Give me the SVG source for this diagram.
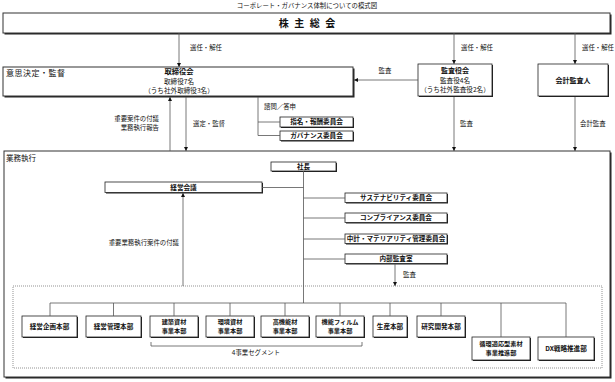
<svg xmlns="http://www.w3.org/2000/svg" width="615" height="382" viewBox="0 0 615 382">
<style>
.s{fill:#222}
.b{fill:#fff;stroke:#222;stroke-width:.8}
.o{fill:#fff;stroke:#333;stroke-width:1}
.l{fill:none;stroke:#555;stroke-width:.8}
.d{fill:none;stroke:#666;stroke-width:.7;stroke-dasharray:1 1}
.a{fill:none;stroke:#555;stroke-width:.8;marker-end:url(#ar)}
text{font-family:"Noto Sans CJK JP","Noto Sans",sans-serif;font-size:6.4px;fill:#111}
.bt{font-weight:bold;font-size:6.6px}
.t2{font-weight:bold;font-size:6.2px}
.m{text-anchor:middle}
.e{text-anchor:end}
</style>
<defs>
<marker id="ar" markerUnits="userSpaceOnUse" markerWidth="4" markerHeight="4" refX="4" refY="2" orient="auto">
<path d="M0,0L4,2L0,4z" fill="#111"/>
</marker>
</defs>
<text x="307" y="8" class="m" style="font-size:6.4px">コーポレート・ガバナンス体制についての模式図</text>

<g id="kabunushi">
<rect x="4.5" y="14.5" width="607" height="20" class="s"/>
<rect x="3" y="13" width="607" height="20" class="o"/>
<text x="307.8" y="27" class="m bt" style="font-size:10px;letter-spacing:1.6px">株 主 総 会</text>
</g>

<g id="torishimariyakukai">
<rect x="4.5" y="68.5" width="350" height="29" class="s"/>
<rect x="3" y="67" width="350" height="29" class="o"/>
<text x="6" y="76" style="font-size:8px;letter-spacing:.5px">意思決定・監督</text>
<text x="179" y="74" class="m bt" style="font-size:7.3px">取締役会</text>
<text x="179" y="84" class="m" style="font-size:6.6px">取締役7名</text>
<text x="179" y="92.5" class="m" style="font-size:6.6px">（うち社外取締役3名）</text>
</g>

<g id="kansayakukai">
<rect x="419" y="65" width="74" height="32" class="s"/>
<rect x="418" y="64" width="74" height="32" class="b"/>
<text x="455" y="72.5" class="m bt" style="font-size:7px">監査役会</text>
<text x="455" y="82.5" class="m" style="font-size:6.6px">監査役4名</text>
<text x="455" y="91.8" class="m" style="font-size:6.6px">（うち社外監査役2名）</text>
</g>

<g id="kaikeikansanin">
<rect x="539" y="65" width="70" height="32" class="s"/>
<rect x="538" y="64" width="70" height="32" class="b"/>
<text x="573" y="82.5" class="m bt" style="font-size:7px">会計監査人</text>
</g>

<g id="shimei">
<rect x="281" y="118" width="73" height="10" class="s"/>
<rect x="280" y="117" width="73" height="10" class="b"/>
<text x="316.5" y="124.4" class="m bt">指名・報酬委員会</text>
</g>

<g id="governance">
<rect x="281" y="132" width="73" height="9.5" class="s"/>
<rect x="280" y="131" width="73" height="9.5" class="b"/>
<text x="316.5" y="138.1" class="m bt">ガバナンス委員会</text>
</g>

<g id="gyomushikko">
<rect x="5.5" y="152.5" width="606" height="226" class="s"/>
<rect x="4" y="151" width="606" height="226" class="o"/>
<text x="6" y="161" style="font-size:7.5px">業務執行</text>
<rect x="13" y="286" width="589" height="82" class="d"/>
</g>

<g id="shacho">
<rect x="272" y="163" width="65" height="9" class="s"/>
<rect x="271" y="162" width="65" height="9" class="b"/>
<text x="303.5" y="168.9" class="m bt">社長</text>
</g>

<g id="keieikaigi">
<rect x="106" y="183" width="157" height="10.5" class="s"/>
<rect x="105" y="182" width="157" height="10.5" class="b"/>
<text x="183.5" y="189.7" class="m bt">経営会議</text>
</g>

<g id="sustainability">
<rect x="346" y="194" width="102" height="9.5" class="s"/>
<rect x="345" y="193" width="102" height="9.5" class="b"/>
<text x="396" y="200.1" class="m bt">サステナビリティ委員会</text>
</g>

<g id="compliance">
<rect x="346" y="214" width="102" height="9.5" class="s"/>
<rect x="345" y="213" width="102" height="9.5" class="b"/>
<text x="396" y="220.1" class="m bt">コンプライアンス委員会</text>
</g>

<g id="chukei">
<rect x="346" y="235" width="102" height="9.5" class="s"/>
<rect x="345" y="234" width="102" height="9.5" class="b"/>
<text x="396" y="241.1" class="m bt">中計・マテリアリティ管理委員会</text>
</g>

<g id="naibukansa">
<rect x="346" y="255" width="102" height="9.5" class="s"/>
<rect x="345" y="254" width="102" height="9.5" class="b"/>
<text x="396" y="261.1" class="m bt">内部監査室</text>
</g>

<g id="keieikikaku">
<rect x="23" y="317" width="55" height="21" class="s"/>
<rect x="22" y="316" width="55" height="21" class="b"/>
<text x="49.5" y="328.7" class="m bt">経営企画本部</text>
</g>

<g id="keieikanri">
<rect x="87" y="317" width="55" height="21" class="s"/>
<rect x="86" y="316" width="55" height="21" class="b"/>
<text x="113.5" y="328.7" class="m bt">経営管理本部</text>
</g>

<g id="kenchiku">
<rect x="151" y="317" width="48" height="21" class="s"/>
<rect x="150" y="316" width="48" height="21" class="b"/>
<text x="174" y="324" class="m t2">建築資材</text>
<text x="174" y="333.4" class="m t2">事業本部</text>
</g>

<g id="kankyo">
<rect x="207" y="317" width="48" height="21" class="s"/>
<rect x="206" y="316" width="48" height="21" class="b"/>
<text x="230" y="324" class="m t2">環境資材</text>
<text x="230" y="333.4" class="m t2">事業本部</text>
</g>

<g id="koukinou">
<rect x="262" y="317" width="48" height="21" class="s"/>
<rect x="261" y="316" width="48" height="21" class="b"/>
<text x="285" y="324" class="m t2">高機能材</text>
<text x="285" y="333.4" class="m t2">事業本部</text>
</g>

<g id="film">
<rect x="317" y="317" width="48" height="21" class="s"/>
<rect x="316" y="316" width="48" height="21" class="b"/>
<text x="340" y="324" class="m t2">機能フィルム</text>
<text x="340" y="333.4" class="m t2">事業本部</text>
</g>

<g id="seisan">
<rect x="374" y="317" width="34" height="21" class="s"/>
<rect x="373" y="316" width="34" height="21" class="b"/>
<text x="390" y="328.7" class="m bt">生産本部</text>
</g>

<g id="kenkyu">
<rect x="418" y="317" width="48" height="21" class="s"/>
<rect x="417" y="316" width="48" height="21" class="b"/>
<text x="441" y="328.7" class="m bt">研究開発本部</text>
</g>

<g id="junkan">
<rect x="473" y="338" width="58" height="23" class="s"/>
<rect x="472" y="337" width="58" height="23" class="b"/>
<text x="501" y="346" class="m t2">循環適応型素材</text>
<text x="501" y="355.4" class="m t2">事業推進部</text>
</g>

<g id="dx">
<rect x="539" y="338" width="56" height="23" class="s"/>
<rect x="538" y="337" width="56" height="23" class="b"/>
<text x="566" y="350.8" class="m bt">DX戦略推進部</text>
</g>

<g id="connectors">
<line x1="179" y1="33" x2="179" y2="67" class="a"/>
<line x1="454" y1="33" x2="454" y2="64" class="a"/>
<line x1="575" y1="33" x2="575" y2="64" class="a"/>
<line x1="418" y1="80" x2="354" y2="80" class="a"/>
<line x1="170" y1="151" x2="170" y2="97" class="a"/>
<line x1="186" y1="97" x2="186" y2="151" class="a"/>
<path d="M258,97V135.5H280M258,122H280" class="l"/>
<line x1="454" y1="97" x2="454" y2="151" class="a"/>
<line x1="575" y1="97" x2="575" y2="151" class="a"/>
<path d="M303.5,171V303M262,187.5H303.5M303.5,198H345M303.5,218H345M303.5,239H345M303.5,259H345" class="l"/>
<line x1="395" y1="264" x2="395" y2="286" class="a"/>
<line x1="183" y1="286" x2="183" y2="193" class="a"/>
<path d="M50,316V303H566V337M113.5,303V316M174,303V316M230,303V316M285,303V316M340,303V316M390,303V316M441,303V316M501,303V337" class="l"/>
<path d="M151,342V346H362V342" class="l"/>
<text x="190" y="49.5">選任・解任</text>
<text x="461" y="49.5">選任・解任</text>
<text x="582" y="49.5">選任・解任</text>
<text x="385" y="73" class="m">監査</text>
<text x="159" y="121" class="e">重要案件の付議</text>
<text x="159" y="130" class="e">業務執行報告</text>
<text x="193" y="126">選定・監督</text>
<text x="264" y="109">諮問／答申</text>
<text x="460" y="126">監査</text>
<text x="580" y="126">会計監査</text>
<text x="403" y="277">監査</text>
<text x="179" y="245" class="e">重要業務執行案件の付議</text>
<text x="256" y="355" class="m">4事業セグメント</text>
</g>
</svg>
